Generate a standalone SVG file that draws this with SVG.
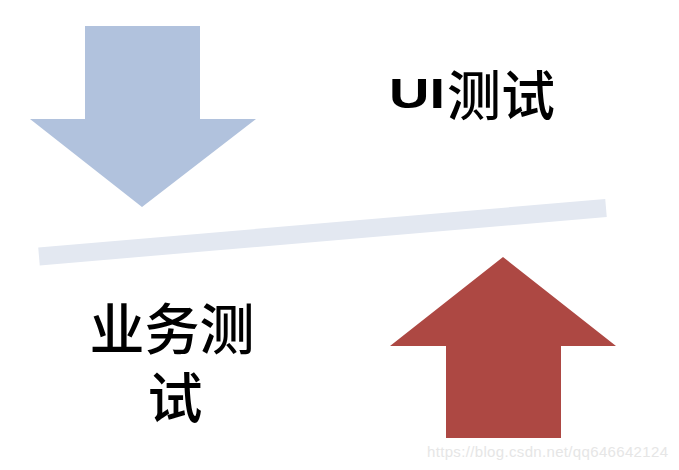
<svg xmlns="http://www.w3.org/2000/svg" width="679" height="470" viewBox="0 0 679 470">
<style>
.cjk{font-family:"Liberation Sans","Noto Sans CJK SC",sans-serif;font-weight:500;fill:#000}
.lat{font-family:"Liberation Sans",Arial,sans-serif;font-weight:bold;fill:#000}
.wm{font-family:"Liberation Sans",Arial,sans-serif;font-size:15px;fill:#e6e6e6}
</style>
<rect width="679" height="470" fill="#fff"/>
<g id="down-arrow">
<polygon points="85,26 200,26 200,119 256,119 142,207 30,119 85,119" fill="#B1C2DD"/>
</g>
<g id="up-arrow">
<polygon points="503,257 616,346 561,346 561,438 446,438 446,346 390,346" fill="#AD4843"/>
</g>
<g id="divider">
<line x1="39" y1="256.5" x2="606" y2="208" stroke="#E3E8F1" stroke-width="18"/>
</g>
<g id="ui-label">
<text class="lat" x="389" y="108" font-size="42" textLength="56" lengthAdjust="spacingAndGlyphs">UI</text>
<text class="cjk" x="447" y="116" font-size="54">测试</text>
</g>
<g id="biz-label">
<text class="cjk" font-size="55" text-anchor="middle" x="172" y="349">业务测</text>
<text class="cjk" font-size="55" text-anchor="middle" x="175" y="418">试</text>
</g>
<text class="wm" x="427" y="457" textLength="241">https://blog.csdn.net/qq646642124</text>
</svg>
